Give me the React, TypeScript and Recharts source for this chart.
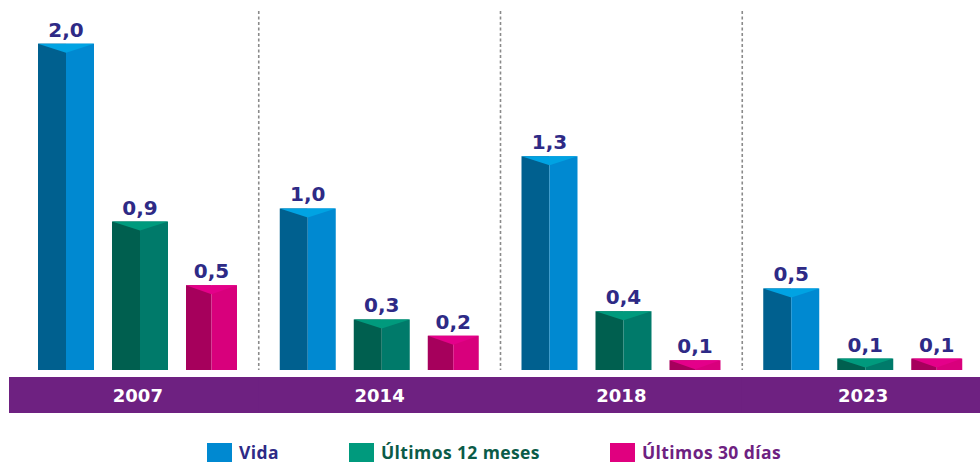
import { BarChart, Bar, XAxis, YAxis, CartesianGrid, LabelList } from "recharts";

const years = ["2007", "2014", "2018", "2023"];
const vida = [2.0, 0.99, 1.31, 0.5];
const ultimos12 = [0.91, 0.31, 0.36, 0.07];
const ultimos30 = [0.52, 0.21, 0.06, 0.07];

const W = 972;
const H = 415;
const MARGIN = { top: 3, right: -4, left: 9, bottom: 0 };
const BAND = (W - MARGIN.left - MARGIN.right) / years.length;

const NUM_FONT = "'DejaVu Sans', sans-serif";
const TXT_FONT = "'Open Sans', sans-serif";

const series = [
  { key: "vida", name: "Vida", size: 56, left: "#00608f", right: "#0089d1", top: "#00a3e3", swatch: "#0089d1", text: "#2e2a86" },
  { key: "u12", name: "Últimos 12 meses", size: 56, left: "#005f4f", right: "#007a6a", top: "#009a7d", swatch: "#009a7d", text: "#0b5b48" },
  { key: "u30", name: "Últimos 30 días", size: 51, left: "#a6005c", right: "#d8007c", top: "#e4008a", swatch: "#e0007f", text: "#6e2181" },
];

const data = years.map((year, i) => ({
  year,
  vida: vida[i],
  u12: ultimos12[i],
  u30: ultimos30[i],
}));

const Bar3D = (props: any) => {
  const { x, y, width, height, colors } = props;
  if (!height || height <= 0) return null;
  const mid = x + width / 2;
  const d = Math.min(9, height);
  return (
    <g>
      <rect x={x} y={y} width={width / 2} height={height} fill={colors.left} />
      <rect x={mid} y={y} width={width / 2} height={height} fill={colors.right} />
      <polygon points={`${x},${y} ${mid},${y + d} ${x + width},${y}`} fill={colors.top} />
    </g>
  );
};

const YearTick = (props: any) => {
  const { x, y, payload, index } = props;
  const i = index ?? payload.index ?? 0;
  const left = i === 0 ? 1 : x - BAND / 2 - 0.5;
  const right = i === years.length - 1 ? W + 10 : x + BAND / 2 + 0.5;
  return (
    <g>
      <rect x={left} y={y - 1} width={right - left} height={36} fill="#6e2181" />
      <text
        x={x}
        y={y + 24}
        textAnchor="middle"
        fill="#ffffff"
        fontFamily={NUM_FONT}
        fontWeight="bold"
        fontSize={18}
      >
        {payload.value}
      </text>
    </g>
  );
};

const fmt = (v: any) => Number(v).toFixed(1).replace(".", ",");

export default function App() {
  return (
    <div style={{ position: "relative", width: 980, height: 463, overflow: "hidden" }}>
      <style>{"body{margin:0}"}</style>
      <div style={{ position: "absolute", left: 8, top: 8 }}>
        <BarChart width={W} height={H} data={data} margin={MARGIN} barGap={18}>
          <CartesianGrid
            horizontal={false}
            vertical={true}
            stroke="#8a8a8a"
            strokeWidth={1.6}
            strokeDasharray="3 2.5"
            verticalCoordinatesGenerator={({ offset }: any) =>
              [1, 2, 3].map((k) => offset.left + (k * offset.width) / years.length)
            }
          />
          <XAxis
            dataKey="year"
            axisLine={false}
            tickLine={false}
            height={53}
            interval={0}
            tick={<YearTick />}
          />
          <YAxis hide domain={[0, 2.2]} />
          {series.map((s) => (
            <Bar
              key={s.key}
              dataKey={s.key}
              name={s.name}
              barSize={s.size}
              isAnimationActive={false}
              shape={(p: any) => <Bar3D {...p} colors={s} />}
            >
              <LabelList
                dataKey={s.key}
                position="top"
                offset={7}
                formatter={fmt}
                fill="#2e2a86"
                fontFamily={NUM_FONT}
                fontWeight="bold"
                fontSize={20}
              />
            </Bar>
          ))}
        </BarChart>
      </div>
      <div
        style={{
          position: "absolute",
          top: 443,
          left: 8,
          width: W,
          display: "flex",
          justifyContent: "center",
          gap: 70,
          fontFamily: TXT_FONT,
          fontWeight: 700,
          fontSize: 17.5,
          letterSpacing: 0.4,
          lineHeight: "19px",
        }}
      >
        {series.map((s) => (
          <div key={s.key} style={{ display: "flex", alignItems: "center" }}>
            <span style={{ display: "inline-block", width: 25, height: 19, background: s.swatch, marginRight: 7 }} />
            <span style={{ color: s.text }}>{s.name}</span>
          </div>
        ))}
      </div>
    </div>
  );
}
